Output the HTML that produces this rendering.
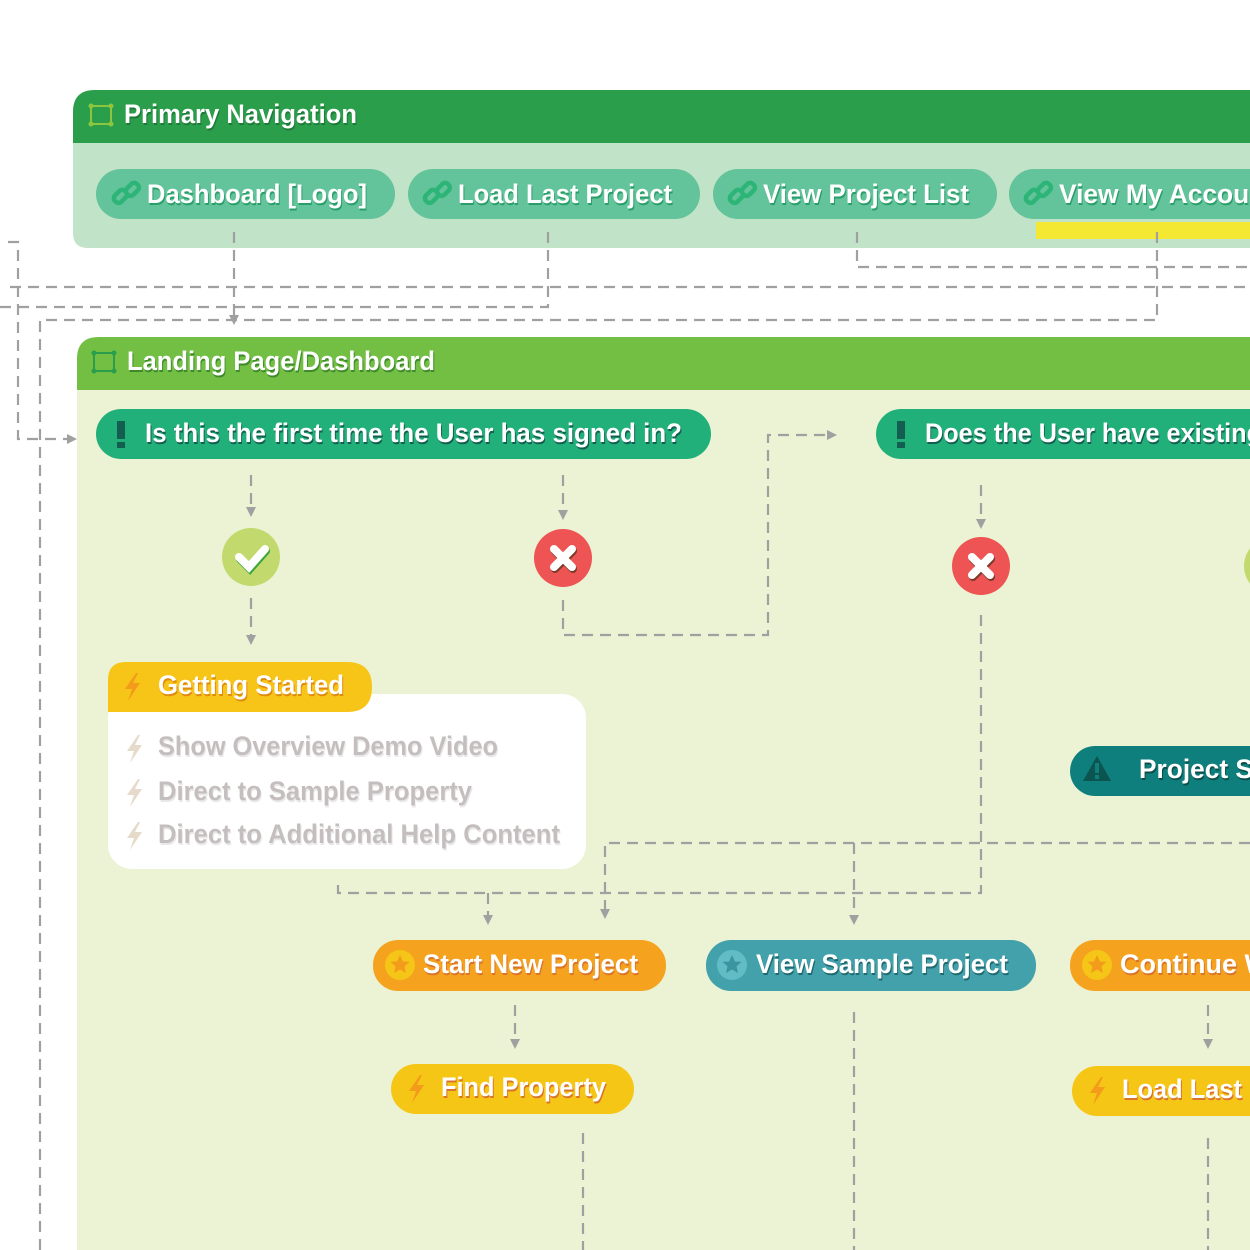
<!DOCTYPE html>
<html><head><meta charset="utf-8"><style>
html,body{margin:0;padding:0;background:#fff;width:1250px;height:1250px;overflow:hidden}
svg text{font-family:"Liberation Sans",sans-serif;font-weight:bold;font-size:27px;fill:#fff}
</style></head><body>
<svg width="1250" height="1250" viewBox="0 0 1250 1250" xmlns="http://www.w3.org/2000/svg">
<defs>
<marker id="ar" markerWidth="10" markerHeight="10" refX="5" refY="5" orient="auto" markerUnits="userSpaceOnUse"><path d="M0,0 L10,5 L0,10 Z" fill="#a0a0a0"/></marker>
<g id="link"><g fill="none" stroke="#2db577" stroke-width="4.5" stroke-linecap="round"><rect x="-14" y="-2" width="14" height="9" rx="4" transform="rotate(-45 -7 2)"/><rect x="-2" y="-9" width="14" height="9" rx="4" transform="rotate(-45 5 -5)"/></g></g>
<g id="bolt"><path d="M4,-13 L-7,3 L0,3 L-4,15 L8,-3 L1,-3 L6,-13 Z" fill="#f39b1a"/></g>
<g id="bolt2"><path d="M4,-13 L-7,3 L0,3 L-4,15 L8,-3 L1,-3 L6,-13 Z" fill="#e6dacb"/></g>
<g id="star"><circle r="15" fill="#f5c518"/><path d="M0,-10 L2.9,-3.5 L9.5,-3.1 L4.5,1.4 L6,8 L0,4.5 L-6,8 L-4.5,1.4 L-9.5,-3.1 L-2.9,-3.5 Z" fill="#f39b1a"/></g>
</defs>

<!-- Primary Navigation -->
<path d="M73,112 Q73,90 95,90 L1250,90 L1250,248 L88,248 Q73,248 73,233 Z" fill="#c1e3c8"/>
<path d="M73,112 Q73,90 95,90 L1250,90 L1250,143 L73,143 Z" fill="#2a9e4a"/>
<g fill="none" stroke="#8cc63f" stroke-width="2"><rect x="91" y="106" width="20" height="18"/></g>
<g fill="#8cc63f"><circle cx="91" cy="106" r="2.5"/><circle cx="111" cy="106" r="2.5"/><circle cx="91" cy="124" r="2.5"/><circle cx="111" cy="124" r="2.5"/></g>
<text x="124" y="123" textLength="233" lengthAdjust="spacingAndGlyphs" style="text-shadow:1px 2px 0 #1e7a38">Primary Navigation</text>

<rect x="1036" y="222" width="214" height="17" fill="#f4e832"/>
<g fill="#63c39a">
<rect x="96" y="169" width="299" height="50" rx="25"/>
<rect x="408" y="169" width="292" height="50" rx="25"/>
<rect x="713" y="169" width="284" height="50" rx="25"/>
<rect x="1009" y="169" width="300" height="50" rx="25"/>
</g>
<use href="#link" x="127" y="194"/><use href="#link" x="438" y="194"/><use href="#link" x="743" y="194"/><use href="#link" x="1039" y="194"/>
<g style="text-shadow:1px 2px 0 #2a9e6a">
<text x="147" y="203" textLength="220" lengthAdjust="spacingAndGlyphs">Dashboard [Logo]</text>
<text x="458" y="203" textLength="214" lengthAdjust="spacingAndGlyphs">Load Last Project</text>
<text x="763" y="203" textLength="206" lengthAdjust="spacingAndGlyphs">View Project List</text>
<text x="1059" y="203" textLength="215" lengthAdjust="spacingAndGlyphs">View My Account</text>
</g>

<!-- Landing panel -->
<path d="M77,359 Q77,337 99,337 L1250,337 L1250,1250 L77,1250 Z" fill="#ebf3d4"/>
<path d="M77,359 Q77,337 99,337 L1250,337 L1250,390 L77,390 Z" fill="#72bf44"/>
<g fill="none" stroke="#2a9e4a" stroke-width="2"><rect x="94" y="353" width="20" height="18"/></g>
<g fill="#2a9e4a"><circle cx="94" cy="353" r="2.5"/><circle cx="114" cy="353" r="2.5"/><circle cx="94" cy="371" r="2.5"/><circle cx="114" cy="371" r="2.5"/></g>
<text x="127" y="370" textLength="308" lengthAdjust="spacingAndGlyphs" style="text-shadow:1px 2px 0 #3e8a2a">Landing Page/Dashboard</text>

<!-- connectors -->
<g fill="none" stroke="#a0a0a0" stroke-width="2.2" stroke-dasharray="11 7">
<path d="M234,232 V320" marker-end="url(#ar)"/>
<path d="M548,232 V307 H0"/>
<path d="M857,232 V267 H1250"/>
<path d="M10,287 H1250"/>
<path d="M1157,232 V320 H40 V1250"/>
<path d="M8,242 H18 V439 H72" marker-end="url(#ar)"/>
<path d="M251,475 V512" marker-end="url(#ar)"/>
<path d="M251,598 V640" marker-end="url(#ar)"/>
<path d="M563,475 V515" marker-end="url(#ar)"/>
<path d="M563,600 V635 H768 V435 H832" marker-end="url(#ar)"/>
<path d="M981,485 V524" marker-end="url(#ar)"/>
<path d="M981,615 V893 H338 V878"/>
<path d="M488,893 V920" marker-end="url(#ar)"/>
<path d="M1250,843 H605 V914" marker-end="url(#ar)"/>
<path d="M854,843 V920" marker-end="url(#ar)"/>
<path d="M515,1005 V1044" marker-end="url(#ar)"/>
<path d="M583,1133 V1250"/>
<path d="M854,1012 V1250"/>
<path d="M1208,1005 V1044" marker-end="url(#ar)"/>
<path d="M1208,1138 V1250"/>
</g>

<!-- decisions -->
<rect x="96" y="409" width="615" height="50" rx="25" fill="#22b07a"/>
<rect x="876" y="409" width="420" height="50" rx="25" fill="#22b07a"/>
<rect x="117" y="421" width="8" height="18" fill="#135e50"/><rect x="117" y="442" width="8" height="6" fill="#135e50"/>
<rect x="897" y="421" width="8" height="18" fill="#135e50"/><rect x="897" y="442" width="8" height="6" fill="#135e50"/>
<g style="text-shadow:1px 2px 0 #135e50">
<text x="145" y="442" textLength="537" lengthAdjust="spacingAndGlyphs">Is this the first time the User has signed in?</text>
<text x="925" y="442" textLength="337" lengthAdjust="spacingAndGlyphs">Does the User have existing</text>
</g>

<!-- circles -->
<circle cx="251" cy="557" r="29" fill="#c2d96d"/>
<path d="M239,557 L249,567 L265,549" fill="none" stroke="#3aa63a" stroke-width="8" stroke-linecap="round" transform="translate(1,2)"/>
<path d="M239,557 L249,567 L265,549" fill="none" stroke="#fff" stroke-width="8" stroke-linecap="round"/>
<g>
<circle cx="563" cy="558" r="29" fill="#ee5454"/>
<path d="M554,549 L572,567 M572,549 L554,567" stroke="#7a3a2a" stroke-width="8" stroke-linecap="round" transform="translate(1,2)"/>
<path d="M554,549 L572,567 M572,549 L554,567" stroke="#fff" stroke-width="8" stroke-linecap="round"/>
<circle cx="981" cy="566" r="29" fill="#ee5454"/>
<path d="M972,557 L990,575 M990,557 L972,575" stroke="#7a3a2a" stroke-width="8" stroke-linecap="round" transform="translate(1,2)"/>
<path d="M972,557 L990,575 M990,557 L972,575" stroke="#fff" stroke-width="8" stroke-linecap="round"/>
</g>
<circle cx="1273" cy="566" r="29" fill="#c2d96d"/>

<!-- Getting Started -->
<rect x="108" y="694" width="478" height="175" rx="24" fill="#fff"/>
<path d="M108,680 Q108,662 126,662 L347,662 Q372,662 372,687 Q372,712 347,712 L108,712 Z" fill="#f6c517"/>
<use href="#bolt" x="132" y="686"/>
<text x="158" y="694" textLength="186" lengthAdjust="spacingAndGlyphs" style="text-shadow:1px 2px 0 #e08a10">Getting Started</text>
<use href="#bolt2" x="134" y="748"/><use href="#bolt2" x="134" y="792"/><use href="#bolt2" x="134" y="835"/>
<g style="text-shadow:1px 2px 0 #e8e8e8">
<text x="158" y="755" textLength="340" lengthAdjust="spacingAndGlyphs" style="fill:#c4bfbe">Show Overview Demo Video</text>
<text x="158" y="800" textLength="314" lengthAdjust="spacingAndGlyphs" style="fill:#c4bfbe">Direct to Sample Property</text>
<text x="158" y="843" textLength="402" lengthAdjust="spacingAndGlyphs" style="fill:#c4bfbe">Direct to Additional Help Content</text>
</g>

<!-- Project S -->
<rect x="1070" y="746" width="240" height="50" rx="25" fill="#0e7f7c"/>
<path d="M1097,756 L1111,781 L1083,781 Z" fill="#0b5450"/><rect x="1095" y="763" width="4" height="10" fill="#0e7f7c"/><rect x="1095" y="775" width="4" height="4" fill="#0e7f7c"/>
<text x="1139" y="778" textLength="130" lengthAdjust="spacingAndGlyphs" style="text-shadow:1px 2px 0 #0b4f4c">Project Su</text>

<!-- bottom nodes -->
<rect x="373" y="940" width="293" height="51" rx="25" fill="#f5a21e"/>
<rect x="706" y="940" width="330" height="51" rx="25" fill="#43a1ab"/>
<rect x="1070" y="940" width="260" height="51" rx="25" fill="#f5a21e"/>
<rect x="391" y="1064" width="243" height="50" rx="25" fill="#f6c616"/>
<rect x="1072" y="1066" width="250" height="50" rx="25" fill="#f6c616"/>
<use href="#star" x="400" y="965"/><use href="#star" x="1097" y="965"/>
<g transform="translate(732,965)"><circle r="15" fill="#62bcc6"/><path d="M0,-10 L2.9,-3.5 L9.5,-3.1 L4.5,1.4 L6,8 L0,4.5 L-6,8 L-4.5,1.4 L-9.5,-3.1 L-2.9,-3.5 Z" fill="#3a95a0"/></g>
<use href="#bolt" x="416" y="1088"/><use href="#bolt" x="1097" y="1090"/>
<g style="text-shadow:1px 2px 0 #d9752a">
<text x="423" y="973" textLength="215" lengthAdjust="spacingAndGlyphs">Start New Project</text>
<text x="1120" y="973" textLength="150" lengthAdjust="spacingAndGlyphs">Continue W</text>
<text x="441" y="1096" textLength="165" lengthAdjust="spacingAndGlyphs">Find Property</text>
<text x="1122" y="1098" textLength="120" lengthAdjust="spacingAndGlyphs">Load Last</text>
</g>
<text x="756" y="973" textLength="252" lengthAdjust="spacingAndGlyphs" style="text-shadow:1px 2px 0 #1f6a70">View Sample Project</text>
</svg>
</body></html>
